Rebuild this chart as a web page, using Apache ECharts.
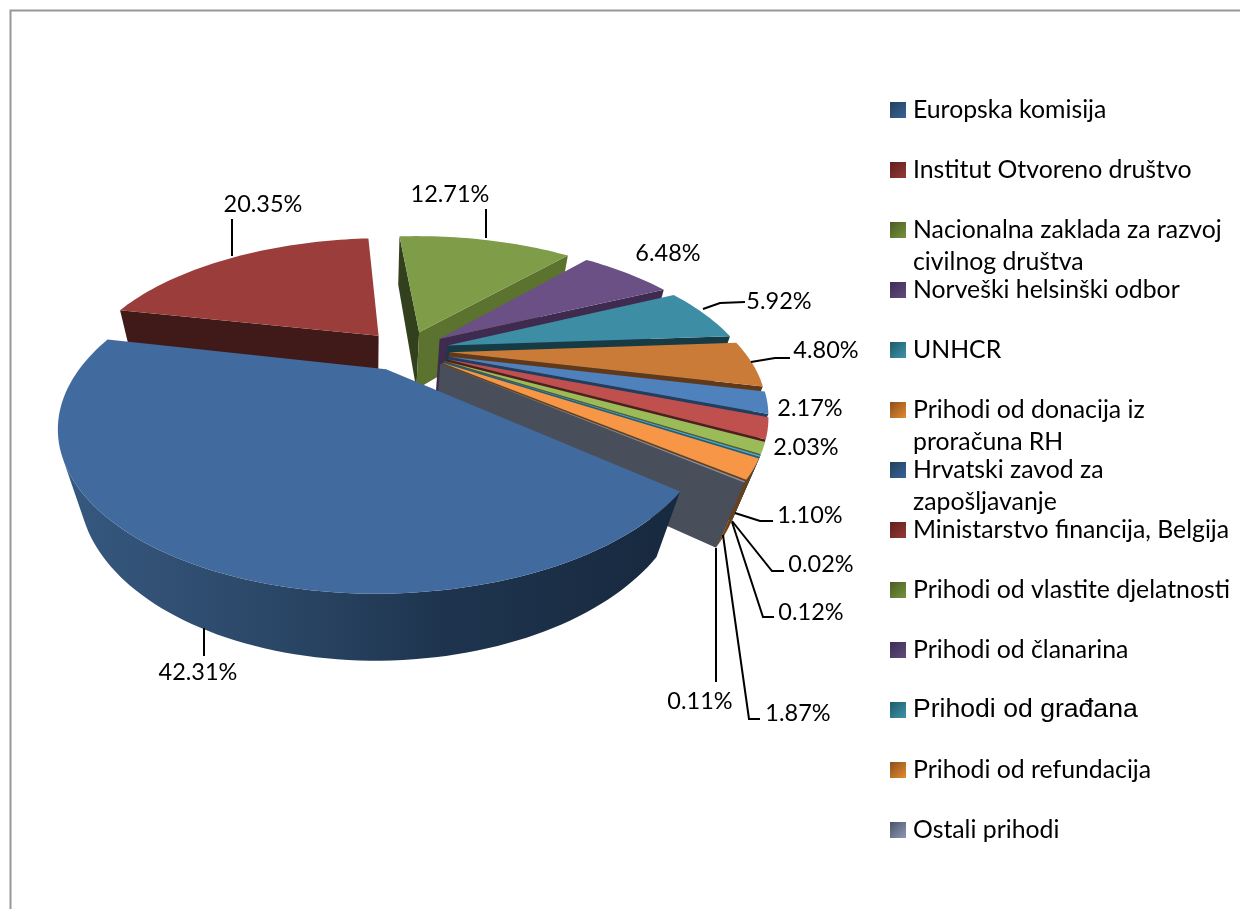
<!DOCTYPE html>
<html><head><meta charset="utf-8">
<style>html,body{margin:0;padding:0;background:#fff}#c{width:1240px;height:909px}</style>
<script src="https://cdn.jsdelivr.net/npm/echarts@6/dist/echarts.min.js"></script>
</head><body><div id="c"></div>
<script>
// ---------- data ----------
const categories = ['Europska komisija','Institut Otvoreno društvo','Nacionalna zaklada za razvoj civilnog društva','Norveški helsinški odbor','UNHCR','Prihodi od donacija iz proračuna RH','Hrvatski zavod za zapošljavanje','Ministarstvo financija, Belgija','Prihodi od vlastite djelatnosti','Prihodi od članarina','Prihodi od građana','Prihodi od refundacija','Ostali prihodi'];
const values = [42.31,20.35,12.71,6.48,5.92,4.80,2.17,2.03,1.10,0.02,0.12,1.87,0.11];
// ---------- styles ----------
const topColors = ['#416B9F','#9B3D3B','#7F9C48','#6A5085','#3D8DA4','#CB7B38','#4F81BD','#C0504D','#9BBB59','#8064A2','#4BACC6','#F79646','#8391AB'];
const endWall   = ['#192C42','#401A18','#5C722F','#3F2B50','#173B45','#60391A','#1F3E62','#4F1E1D','#4A5C28','#3A2C4B','#226075','#6B4016','#484E5A'];
const startWall = ['#192C42','#401A18','#33401D','#3F2B50','#173B45','#60391A','#1F3E62','#4F1E1D','#4A5C28','#3A2C4B','#226075','#6B4016','#484E5A'];
const outerWall = ['#1F3650','#401A18','#5C722F','#3F2B50','#173B45','#6B4016','#1F3E62','#4F1E1D','#4A5C28','#3A2C4B','#226075','#6B4016','#484E5A'];
const legendDark  = ['#23405F','#5F201E','#4A5D24','#3F2D55','#1E5A6A','#8A4F1A','#23405F','#5F201E','#4A5D24','#3F2D55','#1E5A6A','#8A4F1A','#4A5468'];
const legendLight = ['#376396','#953735','#76923C','#604A7B','#3D94AB','#E48A30','#376396','#953735','#76923C','#604A7B','#3D94AB','#E48A30','#8D9AB5'];
const legendBreaks = {2:['Nacionalna zaklada za razvoj','civilnog društva'],5:['Prihodi od donacija iz','proračuna RH'],6:['Hrvatski zavod za','zapošljavanje']};
// ---------- projection of the pie plane (perspective) ----------
const CX=406, CY=350.5, SA=294, SB=137, PERSP=0.32, EXPLODE=0.147;
const VX=370, VY=1350, DEPTH=0.062, START=130;
const project=(X,Y)=>{const w=1-PERSP*Y;return {x:CX+SA*X/w,y:CY+SB*Y/w,w};};
const bottom=(p)=>{const s=p.w/(p.w+DEPTH);return {x:VX+(p.x-VX)*s,y:VY-(VY-p.y)*s};};
const total=values.reduce((a,b)=>a+b,0);
const spans=[];let acc=START;
values.forEach(v=>{const d=v/total*360;spans.push([acc,acc+d]);acc+=d;});
const rad=a=>a*Math.PI/180;
function geom(i){
  const [a0,a1]=spans[i],mid=rad((a0+a1)/2);
  const ox=EXPLODE*Math.sin(mid),oy=-EXPLODE*Math.cos(mid);
  const pt=a=>project(ox+Math.sin(rad(a)),oy-Math.cos(rad(a)));
  const apex=project(ox,oy);
  const n=Math.max(1,Math.ceil((a1-a0)/1.5)),arc=[];
  for(let k=0;k<=n;k++)arc.push(pt(a0+(a1-a0)*k/n));
  return {apex,arc};
}
const area=q=>{let s=0;q.forEach((p,i)=>{const r=q[(i+1)%q.length];s+=p.x*r.y-r.x*p.y;});return s;};
const xy=q=>q.map(p=>[p.x,p.y]);
function poly(pts,fill){return {type:'polygon',silent:true,shape:{points:xy(pts)},style:{fill}};}
function renderSlice(i){
  const {apex,arc}=geom(i),kids=[];
  const wall=(a,b,fill)=>{const q=[a,b,bottom(b),bottom(a)];if(area(q)<0)kids.push(poly(q,fill));};
  wall(apex,arc[0],startWall[i]);
  wall(arc[arc.length-1],apex,endWall[i]);
  const run=[];
  for(let k=0;k<arc.length-1;k++){
    const a=arc[k],b=arc[k+1];
    if(area([a,b,bottom(b),bottom(a)])<0){if(!run.length)run.push(a);run.push(b);}
  }
  if(run.length){
    const fill=i===0?new echarts.graphic.LinearGradient(70,0,650,0,[{offset:0,color:'#36587F'},{offset:.35,color:'#2B4767'},{offset:.65,color:'#1E344E'},{offset:1,color:'#182A40'}],true):outerWall[i];
    kids.push(poly(run.concat(run.map(bottom).reverse()),fill));
  }
  kids.push(poly([apex].concat(arc),topColors[i]));
  return {type:'group',children:kids};
}
// ---------- label placement (picture order: the last two values swap places) ----------
const labelSlots=[0,1,2,3,4,5,6,7,8,9,10,12,11];
const labelPos=[[198,672],[263,204],[450,194],[668,253],[779,301],[826,350],[810,408],[806,447],[810,515],[821,564],[811,612],[700,701],[798,713]];
const leaders=[[[204,628],[204,656]],[[232,219],[232,256]],[[486,209],[486,238]],null,[[703,309],[720,303],[745,302]],[[751,362],[775,358],[790,358]],null,null,[[735,513],[760,521],[773,521]],[[732,521],[772,571],[784,571]],[[732,522],[763,617],[774,617]],[[716,548],[716,682]],[[723,535],[749,719],[760,719]]];
const labelTexts=labelSlots.map(i=>values[i].toFixed(2)+'%');
const FONT='Lato', FS=23.5, LEGEND_FS=24.8;
function renderLabel(k){
  const kids=[];
  if(leaders[k])kids.push({type:'polyline',silent:true,shape:{points:leaders[k]},style:{fill:'none',stroke:'#000',lineWidth:2}});
  kids.push({type:'text',silent:true,x:labelPos[k][0],y:labelPos[k][1],style:{text:labelTexts[k],fill:'#000',font:FS+'px '+FONT,align:'center',verticalAlign:'middle'}});
  return {type:'group',children:kids};
}
// ---------- legend ----------
const legendCenters=[110,170,230,290,350,410,470,530,590,650,710,770,830];
const legends=categories.map((name,i)=>{
  const br=legendBreaks[i];
  const arial=i===10;
  return {
    orient:'vertical',left:890,top:legendCenters[i]-(br?48:16),padding:0,itemWidth:16,itemHeight:16,selectedMode:false,
    data:[{name,icon:'rect',itemStyle:{color:new echarts.graphic.LinearGradient(0,0,1,1,[{offset:0,color:legendDark[i]},{offset:1,color:legendLight[i]}]),borderWidth:0}}],
    formatter:()=>br?'\n'+br[0]+'\n'+br[1]:name,
    textStyle:{fontFamily:arial?'Liberation Sans':FONT,fontSize:arial?26.6:LEGEND_FS,color:'#000',lineHeight:32,padding:[0,0,0,2]}
  };
});
const series=categories.map((name,i)=>({
  type:'custom',name,coordinateSystem:'none',silent:true,clip:false,animation:false,
  z:i===0?20:3+i,data:[values[i]],renderItem:()=>renderSlice(i)
}));
series.push({type:'custom',name:'labels',coordinateSystem:'none',silent:true,clip:false,animation:false,z:30,
  data:labelTexts.map((t,i)=>i),renderItem:(p)=>renderLabel(p.dataIndex)});
const chart=echarts.init(document.getElementById('c'),null,{renderer:'canvas'});
chart.setOption({
  animation:false,backgroundColor:'#fff',tooltip:{show:false},
  legend:legends,series,
  graphic:[{type:'polyline',silent:true,shape:{points:[[10.5,909],[10.5,10.5],[1240,10.5]]},style:{fill:'none',stroke:'#979797',lineWidth:2}}]
});
</script></body></html>
